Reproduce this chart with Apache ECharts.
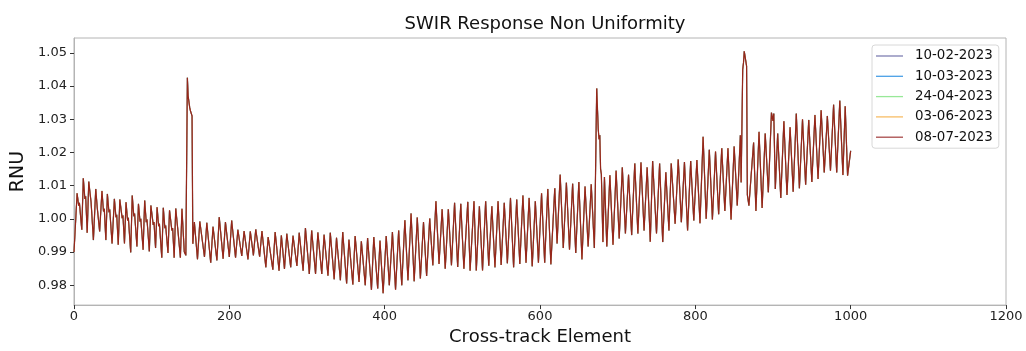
<!DOCTYPE html>
<html>
<head>
<meta charset="utf-8">
<title>SWIR Response Non Uniformity</title>
<script src="https://cdn.jsdelivr.net/npm/echarts@6/dist/echarts.min.js"></script>
<style>
  html, body { margin: 0; padding: 0; background: #fff; }
  #chart { width: 1026px; height: 351px; }
</style>
</head>
<body>
<div id="chart"></div>
<script>
// Acquisition dates (one curve each) and their legend colours
const dates = ['10-02-2023', '10-03-2023', '24-04-2023', '03-06-2023', '08-07-2023'];
const legendColors = ['#7f7fb2', '#4aa0e6', '#98e898', '#f7bd66', '#a84a4a'];

// Axis ticks
const xTicks = [0, 200, 400, 600, 800, 1000, 1200];
const yTicks = [0.98, 0.99, 1.00, 1.01, 1.02, 1.03, 1.04, 1.05];

// RNU profile along the cross-track direction: [element, RNU]
const segStart = [
  [0, 0.9900], [4, 1.0077], [6, 1.0040], [7, 1.0048], [10, 0.9967], [12, 1.0122], [14, 1.0060], [15, 1.0068],
  [17, 0.9958], [19, 1.0112], [22, 1.0050], [23, 1.0056], [25, 0.9936], [28, 1.0090], [30, 1.0032], [31, 1.0038],
  [33, 0.9962], [36, 1.0084], [38, 1.0022], [39, 1.0030], [41, 0.9936], [43, 1.0075], [45, 1.0020], [46, 1.0028],
  [49, 0.9926], [52, 1.0060], [54, 1.0005], [55, 1.0012], [57, 0.9922], [59, 1.0058], [62, 1.0002], [63, 1.0010],
  [65, 0.9926], [67, 1.0050], [69, 0.9995], [70, 1.0003], [73, 0.9899], [75, 1.0070], [77, 1.0008], [78, 1.0016],
  [81, 0.9917], [83, 1.0045], [85, 0.9992], [86, 1.0000], [89, 0.9907], [91, 1.0055], [93, 0.9990], [94, 0.9998],
  [97, 0.9902], [99, 1.0040], [102, 0.9982], [103, 0.9990], [105, 0.9912], [107, 1.0035], [109, 0.9978], [110, 0.9985],
  [113, 0.9883], [115, 1.0033], [117, 0.9972], [118, 0.9980], [121, 0.9897], [123, 1.0026], [126, 0.9965], [127, 0.9972],
  [129, 0.9883], [131, 1.0031], [134, 0.9960], [137, 0.9883], [139, 1.0030], [142, 0.9900], [144, 0.9890]
];
const spikeA = [
  [146, 1.0425], [147, 1.0370], [148, 1.0365], [149, 1.0335], [150, 1.0325], [152, 1.0310], [153, 0.9925]
];
const segLow = [
  [155, 0.9990], [159, 0.9878], [162, 0.9992], [168, 0.9885], [171, 0.9988], [176, 0.9868], [179, 0.9976],
  [184, 0.9875], [187, 1.0005], [192, 0.9880], [195, 0.9990], [200, 0.9885], [203, 0.9995], [208, 0.9883],
  [211, 0.9967], [216, 0.9888], [219, 0.9963], [224, 0.9878], [227, 0.9962], [231, 0.9890], [234, 0.9968],
  [239, 0.9886], [242, 0.9963], [247, 0.9854], [250, 0.9945], [256, 0.9847], [259, 0.9960], [264, 0.9844],
  [267, 0.9950], [271, 0.9849], [274, 0.9955], [279, 0.9854], [282, 0.9949], [287, 0.9858], [290, 0.9958],
  [295, 0.9844], [298, 0.9972], [303, 0.9834], [306, 0.9965], [311, 0.9834], [314, 0.9959], [319, 0.9834],
  [322, 0.9952], [327, 0.9829], [330, 0.9958], [335, 0.9818], [338, 0.9943], [343, 0.9815], [346, 0.9960],
  [351, 0.9805], [354, 0.9937], [359, 0.9802], [362, 0.9948], [367, 0.9810], [370, 0.9932], [375, 0.9800],
  [378, 0.9942], [383, 0.9786], [386, 0.9945], [391, 0.9790], [394, 0.9934]
];
const segMid = [
  [398, 0.9776], [402, 0.9948], [406, 0.9800], [410, 0.9960], [414, 0.9786], [418, 0.9965], [422, 0.9800],
  [426, 0.9996], [430, 0.9815], [434, 1.0016], [438, 0.9812], [442, 1.0004], [446, 0.9820], [450, 0.9990],
  [454, 0.9828], [458, 1.0001], [462, 0.9860], [466, 1.0053], [470, 0.9864], [474, 1.0029], [478, 0.9850],
  [482, 1.0029], [486, 0.9860], [490, 1.0048], [494, 0.9855], [498, 1.0045], [502, 0.9850], [507, 1.0051],
  [510, 0.9844], [515, 1.0053], [518, 0.9844], [522, 1.0038], [526, 0.9844], [530, 1.0053], [534, 0.9859],
  [538, 1.0038], [542, 0.9854], [546, 1.0053], [550, 0.9861], [554, 1.0048], [558, 0.9866], [562, 1.0063],
  [566, 0.9854], [570, 1.0058], [574, 0.9864], [578, 1.0070], [582, 0.9868], [586, 1.0063], [590, 0.9857],
  [594, 1.0053], [598, 0.9868], [602, 1.0077], [606, 0.9868], [610, 1.0090], [614, 0.9863], [619, 1.0092],
  [622, 0.9926], [626, 1.0133], [630, 0.9912], [634, 1.0109], [638, 0.9907], [642, 1.0106], [646, 0.9897],
  [650, 1.0111], [654, 0.9878], [658, 1.0097], [662, 0.9917], [666, 1.0104], [670, 0.9912]
];
const spikeB = [
  [671, 1.0050], [673, 1.0393], [675, 1.0270], [676, 1.0240], [677, 1.0252], [678, 1.0150], [679, 1.0135], [681, 0.9930]
];
const segRise = [
  [683, 1.0126], [686, 0.9917], [690, 1.0131], [694, 0.9922], [698, 1.0145], [702, 0.9941], [706, 1.0155],
  [710, 0.9956], [714, 1.0133], [718, 0.9951], [722, 1.0167], [726, 0.9956], [730, 1.0170], [734, 0.9965],
  [738, 1.0155], [742, 0.9931], [745, 1.0174], [750, 0.9956], [754, 1.0167], [758, 0.9930], [762, 1.0140],
  [766, 0.9965], [769, 1.0167], [774, 0.9985], [778, 1.0179], [782, 0.9990], [786, 1.0171], [790, 0.9965],
  [794, 1.0174], [798, 0.9995], [802, 1.0177], [806, 0.9987], [810, 1.0247], [814, 1.0000], [818, 1.0208],
  [822, 0.9998], [826, 1.0203], [830, 1.0014], [834, 1.0213], [838, 1.0024], [842, 1.0213], [846, 0.9998],
  [850, 1.0218], [854, 1.0040], [858, 1.0252]
];
const spikeC = [
  [859, 1.0110], [861, 1.0450], [862, 1.0470], [863, 1.0505], [865, 1.0502], [866, 1.0460], [867, 1.0072], [869, 1.0040]
];
const segEnd = [
  [875, 1.0230], [878, 1.0024], [882, 1.0262], [886, 1.0033], [890, 1.0257], [894, 1.0080], [898, 1.0320],
  [900, 1.0295], [901, 1.0317], [903, 1.0090], [906, 1.0257], [910, 1.0063], [914, 1.0294], [918, 1.0072],
  [922, 1.0276], [926, 1.0082], [930, 1.0317], [934, 1.0092], [938, 1.0300], [942, 1.0103], [946, 1.0298],
  [950, 1.0111], [954, 1.0313], [958, 1.0120], [962, 1.0327], [966, 1.0140], [970, 1.0310], [974, 1.0145],
  [978, 1.0344], [982, 1.0140], [986, 1.0356], [990, 1.0132], [993, 1.0339], [996, 1.0130], [1000, 1.0205]
];

const profile = [].concat(segStart, spikeA, segLow, segMid, spikeB, segRise, spikeC, segEnd);

// The five acquisitions coincide at this scale; later dates are drawn on top
const plotColors = ['#7f7fb2', '#4aa0e6', '#98e898', '#e0a080', '#8e1a10'];
const plotOpacity = [1, 1, 1, 1, 0.9];
const plotWidth = [0.9, 0.9, 0.9, 1.0, 1.25];

const FONT = 'DejaVu Sans';
const chart = echarts.init(document.getElementById('chart'), null, { renderer: 'canvas' });

chart.setOption({
  animation: false,
  backgroundColor: '#ffffff',
  title: {
    text: 'SWIR Response Non Uniformity',
    left: 540,
    top: 10,
    textAlign: 'center',
    textStyle: { fontFamily: FONT, fontSize: 18, fontWeight: 'normal', color: '#111' }
  },
  grid: {
    left: 74, right: 20, top: 38, bottom: 37,
    show: true, borderColor: '#b4b4b4', borderWidth: 1
  },
  legend: {
    orient: 'vertical',
    left: 872,
    top: 45,
    padding: [4, 6, 4, 4],
    icon: 'rect',
    itemWidth: 27,
    itemHeight: 1.3,
    itemGap: 6.3,
    backgroundColor: 'rgba(255,255,255,0.85)',
    borderColor: '#d8d8d8',
    borderWidth: 1,
    borderRadius: 3,
    textStyle: { fontFamily: FONT, fontSize: 13.4, color: '#111', lineHeight: 14, padding: [0, 0, 0, 7] },
    data: dates.map((d, i) => ({ name: d, itemStyle: { color: legendColors[i], opacity: 1, borderWidth: 0 } }))
  },
  xAxis: {
    type: 'value',
    min: 0,
    max: 1200,
    name: 'Cross-track Element',
    nameLocation: 'middle',
    nameGap: 17,
    nameTextStyle: { fontFamily: FONT, fontSize: 18, color: '#111' },
    axisLine: { show: true, lineStyle: { color: '#b4b4b4', width: 1 } },
    axisTick: { show: true, length: 4, lineStyle: { color: '#333' }, customValues: xTicks },
    axisLabel: {
      fontFamily: FONT, fontSize: 13, color: '#222', margin: 5,
      customValues: xTicks,
      formatter: v => String(v)
    },
    splitLine: { show: false }
  },
  yAxis: {
    type: 'value',
    min: 0.974,
    max: 1.0545,
    name: 'RNU',
    nameLocation: 'middle',
    nameRotate: 90,
    nameGap: 36,
    nameTextStyle: { fontFamily: FONT, fontSize: 19, color: '#111' },
    axisLine: { show: true, lineStyle: { color: '#b4b4b4', width: 1 } },
    axisTick: { show: true, length: 4, lineStyle: { color: '#333' }, customValues: yTicks },
    axisLabel: {
      fontFamily: FONT, fontSize: 13, color: '#222', margin: 7,
      customValues: yTicks,
      formatter: v => v.toFixed(2)
    },
    splitLine: { show: false }
  },
  series: dates.map((d, i) => ({
    name: d,
    type: 'line',
    data: profile,
    symbol: 'none',
    showSymbol: false,
    smooth: false,
    z: 2 + i,
    lineStyle: { color: plotColors[i], width: plotWidth[i], opacity: plotOpacity[i] },
    itemStyle: { color: plotColors[i] },
    emphasis: { disabled: true }
  }))
});
</script>
</body>
</html>
